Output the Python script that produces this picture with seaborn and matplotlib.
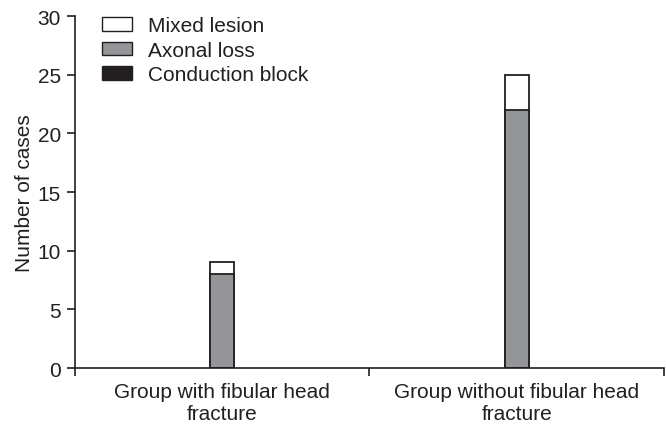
import matplotlib
matplotlib.use("Agg")
import matplotlib.pyplot as plt
import seaborn as sns
import pandas as pd
from matplotlib.patches import Patch

# values
groups = ["Group with fibular head\nfracture", "Group without fibular head\nfracture"]
conduction_block = [0, 0]
axonal_loss = [8, 22]
mixed_lesion = [1, 3]

sns.set_style("ticks")
plt.rcParams['font.family'] = ['Liberation Sans', 'DejaVu Sans']
plt.rcParams['font.size'] = 15

edge = "#231f20"
gray = "#939598"

df = pd.DataFrame({
    "group": groups,
    "conduction": conduction_block,
    "axonal": [c + a for c, a in zip(conduction_block, axonal_loss)],
    "total": [c + a + m for c, a, m in zip(conduction_block, axonal_loss, mixed_lesion)],
})

fig = plt.figure(figsize=(6.66, 4.27), dpi=100)
ax = fig.add_axes([0.1126, 0.1358, 0.8844, 0.8242])

kw = dict(data=df, x="group", order=groups, width=0.08, edgecolor=edge, linewidth=1.3, ax=ax)
sns.barplot(y="total", color="white", saturation=1, **kw)
sns.barplot(y="axonal", color=gray, saturation=1, **kw)
sns.barplot(y="conduction", color=edge, saturation=1, **kw)

ax.set_xlim(-0.5, 1.5)
ax.set_ylim(0, 30)
ax.set_yticks(range(0, 31, 5))
ax.set_xlabel("")
ax.set_ylabel("Number of cases", fontsize=15, color=edge, labelpad=3)

# group boundary ticks only, labels without ticks
ax.set_xticks([-0.5, 0.5, 1.5], minor=True)
ax.tick_params(axis="x", which="major", length=0, pad=10, labelsize=15, labelcolor=edge)
ax.tick_params(axis="x", which="minor", length=6, width=1.2, color=edge)
ax.tick_params(axis="y", length=6, width=1.2, color=edge, labelsize=15, labelcolor=edge, pad=4)
for s in ["top", "right"]:
    ax.spines[s].set_visible(False)
for s in ["left", "bottom"]:
    ax.spines[s].set_color(edge)
    ax.spines[s].set_linewidth(1.2)

handles = [
    Patch(facecolor="white", edgecolor=edge, label="Mixed lesion"),
    Patch(facecolor=gray, edgecolor=edge, label="Axonal loss"),
    Patch(facecolor=edge, edgecolor=edge, label="Conduction block"),
]
leg = ax.legend(handles=handles, loc="upper left", bbox_to_anchor=(0.046, 1.0), frameon=False,
                fontsize=15, handlelength=1.45, handleheight=0.63, labelspacing=0.27,
                handletextpad=0.75, borderpad=0, borderaxespad=0)
for t in leg.get_texts():
    t.set_color(edge)

fig.savefig("out.png", dpi=100)
